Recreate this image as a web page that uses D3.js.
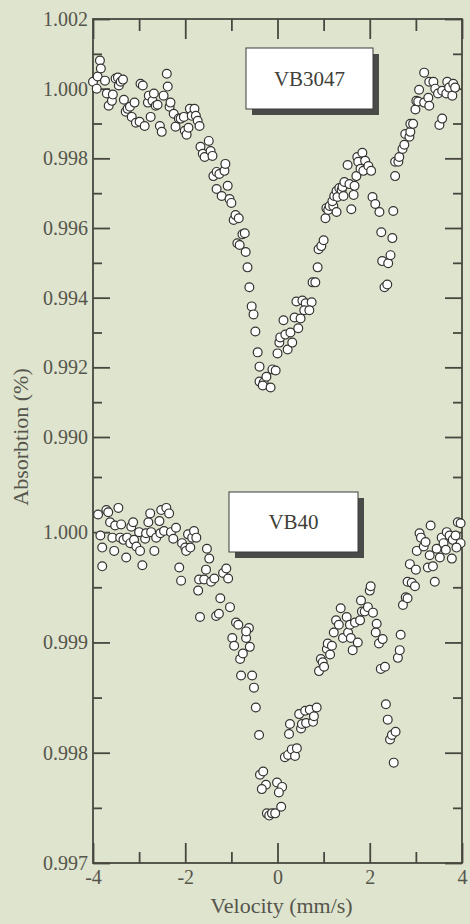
<!DOCTYPE html>
<html><head><meta charset="utf-8">
<script src="https://cdn.jsdelivr.net/npm/d3@7"></script>
<style>html,body{margin:0;padding:0;background:#dfe4cf;} svg{display:block;}</style>
</head><body><svg id="c" width="470" height="924"></svg>
<script>
// ---- DATA ----
const topVelocity = [
-4.00,-3.92,-3.90,-3.85,-3.83,-3.74,-3.70,-3.66,-3.59,-3.57,
-3.51,-3.46,-3.44,-3.40,-3.35,-3.33,-3.29,-3.25,-3.20,-3.16,
-3.10,-3.07,-2.99,-2.97,-2.92,-2.88,-2.81,-2.79,-2.75,-2.71,
-2.68,-2.64,-2.60,-2.55,-2.51,-2.47,-2.40,-2.38,-2.34,-2.32,
-2.25,-2.21,-2.14,-2.10,-2.03,-2.01,-1.97,-1.93,-1.90,-1.86,
-1.80,-1.77,-1.73,-1.69,-1.67,-1.62,-1.58,-1.49,-1.45,-1.41,
-1.39,-1.32,-1.32,-1.26,-1.21,-1.15,-1.13,-1.08,-1.04,-1.00,
-0.95,-0.91,-0.84,-0.76,-0.71,-0.87,-0.82,-0.69,-0.65,-0.61,
-0.56,-0.52,-0.48,-0.43,-0.39,-0.39,-0.30,-0.32,-0.24,-0.15,
-0.11,-0.04,0.00,0.04,0.06,0.13,0.17,0.22,0.28,0.32,
0.45,0.37,0.50,0.41,0.54,0.61,0.74,0.58,0.69,0.76,
0.82,0.87,0.89,0.95,1.00,1.04,1.06,1.10,1.13,1.21,
1.19,1.23,1.28,1.30,1.34,1.39,1.41,1.43,1.45,1.28,
1.52,1.56,1.60,1.65,1.67,1.71,1.73,1.75,1.80,1.84,
1.86,1.90,1.97,2.03,2.06,2.12,2.21,2.25,2.27,2.32,
2.38,2.40,2.45,2.49,2.51,2.55,2.55,2.62,2.64,2.71,
2.75,2.77,2.86,2.88,2.88,2.94,2.99,3.01,3.05,3.07,
3.18,3.18,3.27,3.29,3.29,3.38,3.42,3.48,3.51,3.57,
3.57,3.66,3.68,3.72,3.79,3.81,3.85];
const topAbsorption = [
1.00020,1.00000,1.00035,1.00081,1.00058,1.00023,0.99986,0.99951,0.99965,0.99983,
1.00029,1.00032,1.00009,1.00020,1.00026,0.99968,0.99934,0.99942,0.99948,0.99919,
0.99960,0.99902,0.99905,1.00014,1.00009,0.99893,0.99960,0.99980,0.99919,0.99965,
0.99986,0.99951,0.99954,0.99893,0.99876,0.99980,1.00043,1.00006,0.99948,0.99960,
0.99928,0.99891,0.99914,0.99914,0.99919,0.99879,0.99868,0.99888,0.99942,0.99922,
0.99942,0.99922,0.99908,0.99893,0.99833,0.99813,0.99804,0.99850,0.99821,0.99807,
0.99749,0.99761,0.99712,0.99755,0.99692,0.99764,0.99784,0.99721,0.99683,0.99672,
0.99623,0.99637,0.99628,0.99582,0.99585,0.99556,0.99551,0.99531,0.99487,0.99430,
0.99375,0.99352,0.99303,0.99243,0.99202,0.99159,0.99156,0.99148,0.99173,0.99142,
0.99194,0.99191,0.99240,0.99271,0.99286,0.99335,0.99294,0.99251,0.99300,0.99271,
0.99312,0.99343,0.99340,0.99389,0.99392,0.99384,0.99387,0.99364,0.99364,0.99444,
0.99444,0.99487,0.99539,0.99548,0.99565,0.99628,0.99657,0.99652,0.99663,0.99663,
0.99677,0.99692,0.99706,0.99689,0.99715,0.99709,0.99718,0.99692,0.99732,0.99646,
0.99781,0.99726,0.99654,0.99695,0.99721,0.99749,0.99804,0.99790,0.99770,0.99816,
0.99764,0.99793,0.99778,0.99764,0.99689,0.99669,0.99646,0.99588,0.99505,0.99430,
0.99438,0.99499,0.99522,0.99571,0.99649,0.99749,0.99790,0.99790,0.99804,0.99827,
0.99839,0.99870,0.99862,0.99876,0.99899,0.99899,0.99940,0.99965,0.99963,0.99997,
1.00046,0.99960,0.99974,1.00020,0.99951,1.00020,1.00000,0.99986,0.99896,0.99914,
0.99994,0.99986,1.00020,1.00003,0.99980,1.00014,1.00003];
const bottomVelocity = [
-3.89,-3.84,-3.80,-3.80,-3.71,-3.67,-3.63,-3.58,-3.52,-3.54,
-3.45,-3.41,-3.39,-3.34,-3.28,-3.26,-3.19,-3.17,-3.13,-3.11,
-3.06,-3.00,-2.98,-2.93,-2.87,-2.85,-2.80,-2.76,-2.74,-2.67,
-2.63,-2.56,-2.54,-2.52,-2.46,-2.41,-2.35,-2.31,-2.26,-2.20,
-2.13,-2.09,-2.07,-2.00,-1.98,-1.94,-1.89,-1.85,-1.81,-1.76,
-1.72,-1.68,-1.70,-1.59,-1.53,-1.48,-1.55,-1.44,-1.37,-1.33,
-1.27,-1.24,-1.18,-1.11,-1.07,-1.03,-0.98,-0.94,-0.90,-0.85,
-0.81,-0.79,-0.75,-0.68,-0.62,-0.68,-0.60,-0.55,-0.51,-0.47,
-0.40,-0.38,-0.31,-0.25,-0.34,-0.23,-0.18,-0.12,-0.05,-0.01,
0.10,0.03,0.08,0.16,0.23,0.31,0.38,0.42,0.25,0.27,
0.51,0.53,0.62,0.77,0.47,0.60,0.70,0.79,0.85,0.90,
0.94,0.98,1.01,1.07,1.09,1.14,1.18,1.22,1.27,1.33,
1.37,1.42,1.50,1.53,1.57,1.59,1.63,1.68,1.74,1.79,
1.81,1.83,1.89,1.96,2.00,2.02,2.07,2.15,2.13,2.20,
2.28,2.24,2.33,2.35,2.39,2.44,2.48,2.56,2.52,2.61,
2.65,2.67,2.72,2.78,2.82,2.82,2.91,2.98,2.87,3.00,
3.02,3.08,3.11,3.17,3.21,3.26,3.30,3.32,3.37,3.41,
3.45,3.52,3.56,3.60,3.65,3.67,3.73,3.78,3.80,3.86,
3.91,3.97,3.97,3.88];
const bottomAbsorption = [
1.00016,0.99997,0.99986,0.99969,1.00020,1.00018,1.00009,0.99995,1.00006,0.99983,
1.00022,0.99995,1.00007,0.99993,0.99977,0.99995,0.99990,1.00005,1.00009,0.99993,
0.99987,1.00000,0.99983,0.99970,0.99994,0.99999,1.00009,1.00017,1.00000,0.99983,
0.99995,1.00010,0.99999,1.00020,1.00001,1.00022,1.00017,1.00000,0.99994,1.00004,
0.99968,0.99956,0.99990,0.99986,0.99983,0.99998,0.99986,0.99995,1.00001,0.99995,
0.99947,0.99923,0.99957,0.99957,0.99985,0.99976,0.99966,0.99955,0.99958,0.99924,
0.99926,0.99940,0.99963,0.99967,0.99958,0.99932,0.99904,0.99897,0.99918,0.99916,
0.99885,0.99870,0.99890,0.99904,0.99913,0.99910,0.99896,0.99870,0.99859,0.99841,
0.99816,0.99780,0.99783,0.99771,0.99767,0.99745,0.99743,0.99745,0.99745,0.99773,
0.99769,0.99764,0.99751,0.99796,0.99798,0.99803,0.99797,0.99804,0.99817,0.99826,
0.99822,0.99826,0.99827,0.99828,0.99835,0.99838,0.99839,0.99833,0.99841,0.99874,
0.99885,0.99882,0.99878,0.99894,0.99899,0.99889,0.99897,0.99909,0.99920,0.99916,
0.99931,0.99904,0.99923,0.99909,0.99916,0.99904,0.99893,0.99918,0.99900,0.99920,
0.99938,0.99928,0.99928,0.99932,0.99947,0.99951,0.99927,0.99917,0.99909,0.99899,
0.99903,0.99876,0.99878,0.99844,0.99830,0.99812,0.99816,0.99819,0.99791,0.99886,
0.99893,0.99907,0.99934,0.99941,0.99940,0.99955,0.99954,0.99951,0.99971,0.99966,
0.99983,0.99999,0.99995,0.99987,0.99991,0.99968,0.99979,1.00006,0.99969,0.99955,
0.99985,0.99977,0.99995,0.99990,0.99984,1.00000,0.99997,0.99976,0.99993,0.99997,
1.00009,1.00008,0.99990,0.99986];
const velocityMajorTicks = [-4,-2,0,2,4];
const velocityMinorTicks = [-3,-1,1,3];
const topMajorTicks = [0.990,0.992,0.994,0.996,0.998,1.000,1.002];
const topMinorTicks = [0.991,0.993,0.995,0.997,0.999,1.001];
const bottomMajorTicks = [0.997,0.998,0.999,1.000];
const bottomMinorTicks = [0.9975,0.9985,0.9995,1.0005];
const panelNames = ["VB3047","VB40"];
const xTitle = "Velocity (mm/s)";
const yTitle = "Absorbtion (%)";

// ---- LAYOUT ----
const L = 93, R = 462, T = 19, B = 863;
const ink = "#47473f", textCol = "#55554b";
const font = "'Liberation Serif', 'Times New Roman', serif";

const svg = d3.select("#c");
svg.append("rect").attr("width",470).attr("height",924).attr("fill","#dfe4cf");

const x = d3.scaleLinear().domain([-4,4]).range([L,R]);
const yTop = d3.scaleLinear().domain([0.990,1.002]).range([437,T]);
const yBot = d3.scaleLinear().domain([0.997,1.0005]).range([B,477]);

function styleAxis(g){
  g.select(".domain").remove();
  g.selectAll("line").attr("stroke",ink).attr("stroke-width",1.8);
  g.selectAll("text").attr("fill",textCol).attr("font-family",font).attr("font-size",20);
}

// left axis (labels)
const fmt = d3.format(".3f");
[[yTop,topMajorTicks,topMinorTicks],[yBot,bottomMajorTicks,bottomMinorTicks]].forEach(([y,maj,min])=>{
  svg.append("g").attr("transform",`translate(${L},0)`)
    .call(d3.axisLeft(y).tickValues(maj).tickSize(-17).tickPadding(5).tickFormat(fmt)).call(styleAxis);
  svg.append("g").attr("transform",`translate(${L},0)`)
    .call(d3.axisLeft(y).tickValues(min).tickSize(-9).tickFormat("")).call(styleAxis);
  svg.append("g").attr("transform",`translate(${R},0)`)
    .call(d3.axisRight(y).tickValues(maj).tickSize(-17).tickFormat("")).call(styleAxis);
  svg.append("g").attr("transform",`translate(${R},0)`)
    .call(d3.axisRight(y).tickValues(min).tickSize(-9).tickFormat("")).call(styleAxis);
});

// bottom and top axes
svg.append("g").attr("transform",`translate(0,${B})`)
  .call(d3.axisBottom(x).tickValues(velocityMajorTicks).tickSize(-20).tickPadding(7).tickFormat(d=>String(d))).call(styleAxis);
svg.append("g").attr("transform",`translate(0,${B})`)
  .call(d3.axisBottom(x).tickValues(velocityMinorTicks).tickSize(-11).tickFormat("")).call(styleAxis);
svg.append("g").attr("transform",`translate(0,${T})`)
  .call(d3.axisTop(x).tickValues(velocityMajorTicks).tickSize(-20).tickFormat("")).call(styleAxis);
svg.append("g").attr("transform",`translate(0,${T})`)
  .call(d3.axisTop(x).tickValues(velocityMinorTicks).tickSize(-12).tickFormat("")).call(styleAxis);

// frame
svg.append("rect").attr("x",L).attr("y",T).attr("width",R-L).attr("height",B-T)
  .attr("fill","none").attr("stroke",ink).attr("stroke-width",1.8);

// titles
svg.append("text").attr("x",(L+R)/2+4).attr("y",913).attr("text-anchor","middle")
  .attr("font-family",font).attr("font-size",22).attr("fill",textCol).text(xTitle);
svg.append("text").attr("transform","translate(28,437) rotate(-90)").attr("text-anchor","middle")
  .attr("font-family",font).attr("font-size",22).attr("fill",textCol).text(yTitle);

// labels boxes
function box(x0,y0,w,h,label){
  const g = svg.append("g");
  g.append("rect").attr("x",x0+6).attr("y",y0+6).attr("width",w).attr("height",h).attr("fill","#4a4a48");
  g.append("rect").attr("x",x0).attr("y",y0).attr("width",w).attr("height",h).attr("fill","#ffffff")
    .attr("stroke","#3a3a3a").attr("stroke-width",1);
  g.append("text").attr("x",x0+w/2).attr("y",y0+h/2).attr("dy","0.35em").attr("text-anchor","middle")
    .attr("font-family",font).attr("font-size",21).attr("fill","#404038").text(label);
}

// points
const topData = d3.zip(topVelocity, topAbsorption);
const botData = d3.zip(bottomVelocity, bottomAbsorption);
function dots(data,y){
  svg.append("g").selectAll("circle").data(data).join("circle")
    .attr("cx",d=>x(d[0])).attr("cy",d=>y(d[1])).attr("r",4.4)
    .attr("fill","#ffffff").attr("stroke","#333330").attr("stroke-width",1.2);
}
box(246,48,127,61,panelNames[0]);
box(229,492,129,60,panelNames[1]);
dots(topData,yTop);
dots(botData,yBot);
</script></body></html>
